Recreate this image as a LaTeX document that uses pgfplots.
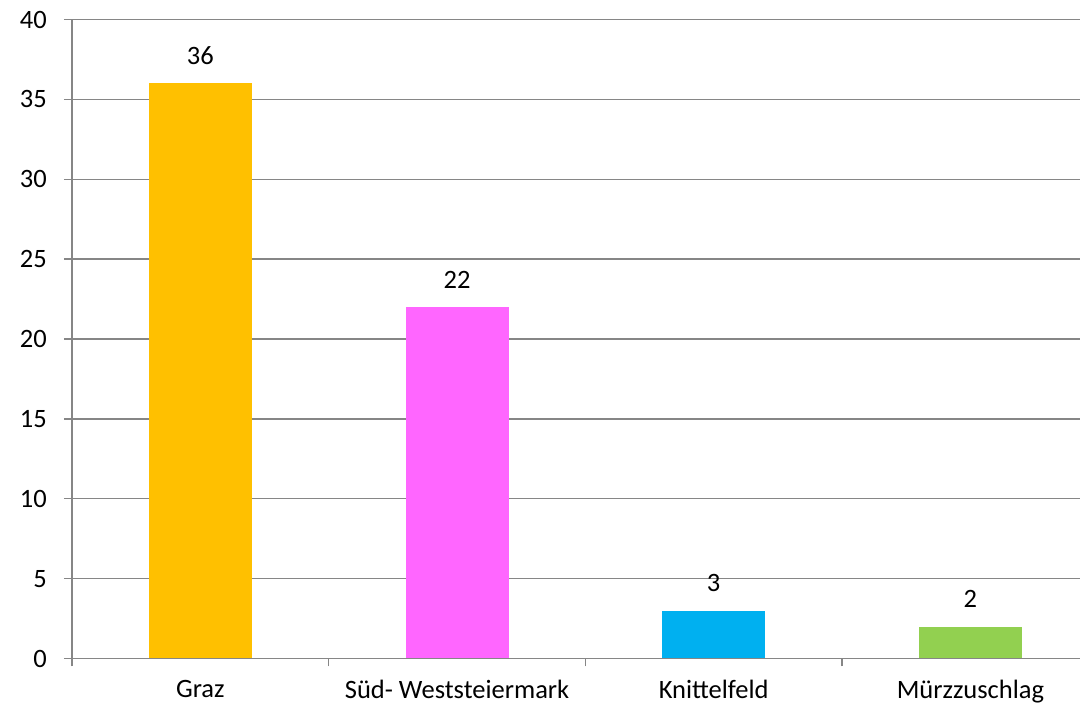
\documentclass[border=0pt]{standalone}
\usepackage{pgfplots}
\pgfplotsset{compat=1.18}
\usepackage{fontspec}
\setmainfont{Carlito}
\definecolor{cOr}{HTML}{FFC000}
\definecolor{cMa}{HTML}{FF66FF}
\definecolor{cCy}{HTML}{00B0F0}
\definecolor{cGr}{HTML}{92D050}
\definecolor{gridgray}{HTML}{868686}
\begin{document}
\begin{tikzpicture}[x=1pt,y=1pt]
\useasboundingbox (0,0) rectangle (1080,707);
\begin{axis}[
  at={(72pt,48.5pt)}, anchor=south west,
  scale only axis, width=1008pt, height=639pt,
  xmin=-0.5, xmax=3.427, ymin=0, ymax=40,
  ytick={0,5,...,40},
  xtick={-0.5,0.5,1.5,2.5}, xticklabels={},
  extra x ticks={0,1,2,3},
  extra x tick labels={Graz, Süd- Weststeiermark, Knittelfeld, Mürzzuschlag},
  extra x tick style={major tick length=0pt, xticklabel style={yshift=-18pt}},
  axis x line*=bottom, axis y line*=left,
  axis line style={draw=gridgray, line width=1.3pt, -},
  ymajorgrids, grid style={draw=gridgray, line width=1.3pt},
  tick align=outside, major tick length=8pt,
  tick style={draw=gridgray, line width=1.3pt},
  /pgf/number format/assume math mode=true,
  font=\fontsize{26.5}{30}\selectfont,
  ticklabel style={font=\fontsize{26.5}{30}\selectfont},
  yticklabel style={anchor=east, inner sep=0pt, xshift=-17pt},
  ybar, bar width=103pt, bar shift=0pt,
  nodes near coords,
  every node near coord/.append style={anchor=base, yshift=19pt, inner sep=0pt, font=\fontsize{26.5}{30}\selectfont, black},
]
\addplot[fill=cOr, draw=none] coordinates {(0,36)};
\addplot[fill=cMa, draw=none] coordinates {(1,22)};
\addplot[fill=cCy, draw=none] coordinates {(2,3)};
\addplot[fill=cGr, draw=none] coordinates {(3,2)};
\end{axis}
\end{tikzpicture}
\end{document}
